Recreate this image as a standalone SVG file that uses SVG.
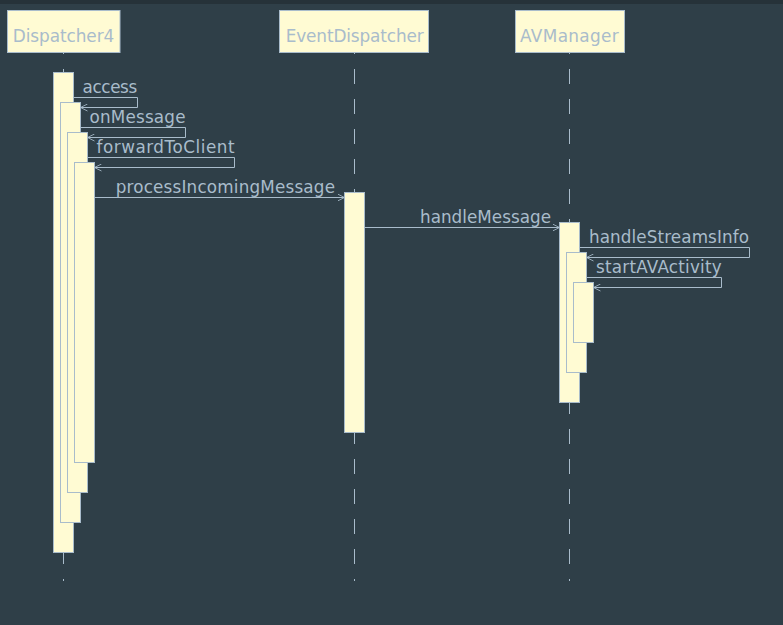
<svg xmlns="http://www.w3.org/2000/svg" width="783" height="625" viewBox="0 0 783 625">
<style>
.hdr{fill:#fffbd3;stroke:#a9bccb;stroke-width:1}
.act{fill:#fffbd3;stroke:#a9bccb;stroke-width:1}
.life{stroke:#a9bccb;stroke-width:1;stroke-dasharray:15 15;fill:none}
.msg{stroke:#a9bccb;stroke-width:1;fill:none}
.t{font-family:"DejaVu Sans",sans-serif;fill:#a9bccb}
.th{font-size:16.9px;text-anchor:middle}
.tm{font-size:16.8px}
</style>
<defs>
<marker id="arr" viewBox="0 0 10 10" refX="10" refY="5" markerWidth="7" markerHeight="8" markerUnits="userSpaceOnUse" orient="auto">
<path d="M0,0 L10,5 L0,10" fill="none" stroke="#a9bccb" stroke-width="1.2"/>
</marker>
</defs>
<rect width="783" height="625" fill="#2f3f48"/>
<rect width="783" height="4" fill="#263239"/>
<g id="lifelines">
<line class="life" x1="63.5" y1="39" x2="63.5" y2="581"/>
<line class="life" x1="354.5" y1="39" x2="354.5" y2="581"/>
<line class="life" x1="569.5" y1="39" x2="569.5" y2="581"/>
</g>
<g id="Dispatcher4">
<rect class="hdr" x="7.5" y="10.5" width="112.5" height="42"/>
<text class="t th" x="63.5" y="42" textLength="101.5" lengthAdjust="spacing">Dispatcher4</text>
</g>
<g id="EventDispatcher">
<rect class="hdr" x="279.5" y="10.5" width="149" height="42"/>
<text class="t th" x="354.7" y="42" textLength="138" lengthAdjust="spacing">EventDispatcher</text>
</g>
<g id="AVManager">
<rect class="hdr" x="515.5" y="10.5" width="109" height="42"/>
<text class="t th" x="569.4" y="42" textLength="98.7" lengthAdjust="spacing">AVManager</text>
</g>
<g id="activations">
<rect class="act" x="53.5" y="72.5" width="20" height="480"/>
<rect class="act" x="60.5" y="102.5" width="20" height="420"/>
<rect class="act" x="67.5" y="132.5" width="20" height="360"/>
<rect class="act" x="74.5" y="162.5" width="20" height="300"/>
<rect class="act" x="344.5" y="192.5" width="20" height="240"/>
<rect class="act" x="559.5" y="222.5" width="20" height="180"/>
<rect class="act" x="566.5" y="252.5" width="20" height="120"/>
<rect class="act" x="573.5" y="282.5" width="20" height="60"/>
</g>
<g id="connectors">
<path class="msg" d="M73.5,97.5 H137.5 V107.5 H80.5" marker-end="url(#arr)"/>
<path class="msg" d="M80.5,127.5 H185.5 V137.5 H87.5" marker-end="url(#arr)"/>
<path class="msg" d="M87.5,157.5 H234.5 V167.5 H94.5" marker-end="url(#arr)"/>
<path class="msg" d="M94.5,197.5 H344.5" marker-end="url(#arr)"/>
<path class="msg" d="M364.5,227.5 H559.5" marker-end="url(#arr)"/>
<path class="msg" d="M579.5,247.5 H749.5 V257.5 H586.5" marker-end="url(#arr)"/>
<path class="msg" d="M586.5,277.5 H721.5 V287.5 H593.5" marker-end="url(#arr)"/>
</g>
<g id="labels">
<text class="t tm" x="82.5" y="93" textLength="54.7" lengthAdjust="spacing">access</text>
<text class="t tm" x="89.5" y="123" textLength="96" lengthAdjust="spacing">onMessage</text>
<text class="t tm" x="96.5" y="153" textLength="138" lengthAdjust="spacing">forwardToClient</text>
<text class="t tm" x="115.7" y="193" textLength="219.3" lengthAdjust="spacing">processIncomingMessage</text>
<text class="t tm" x="420" y="223" textLength="131" lengthAdjust="spacing">handleMessage</text>
<text class="t tm" x="589" y="243" textLength="160" lengthAdjust="spacing">handleStreamsInfo</text>
<text class="t tm" x="596" y="273" textLength="125.7" lengthAdjust="spacing">startAVActivity</text>
</g>
</svg>
